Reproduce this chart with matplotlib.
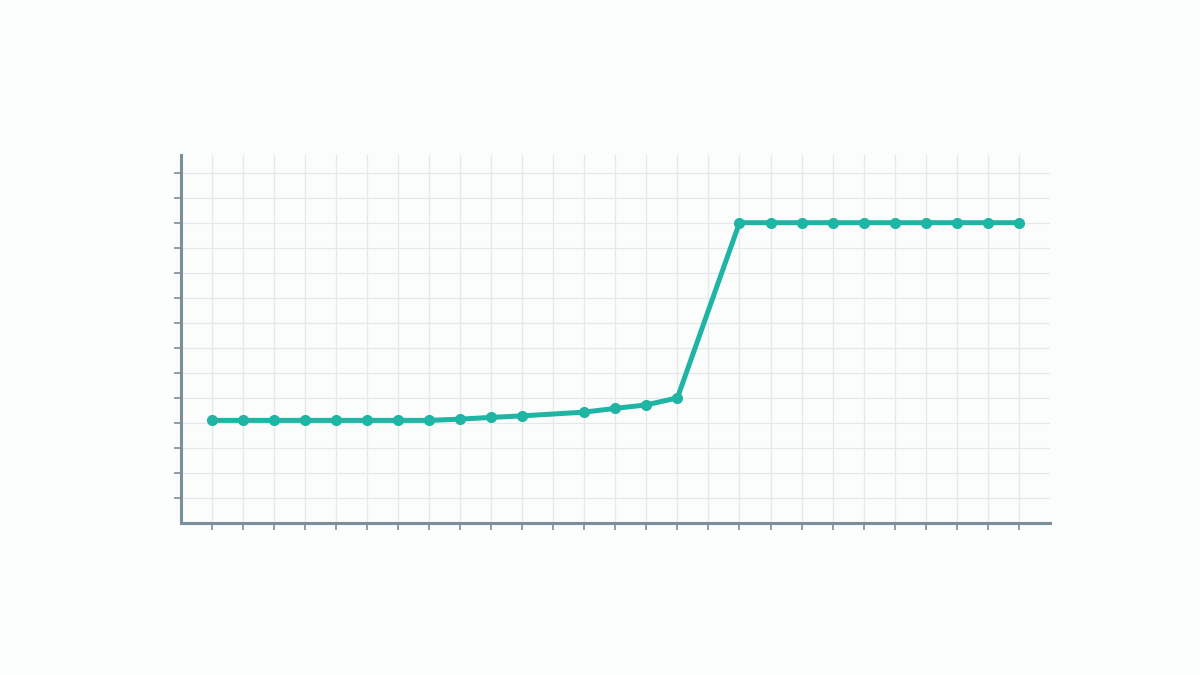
import numpy as np
import matplotlib
matplotlib.use("Agg")
import matplotlib.pyplot as plt

# ---- data ----
x_idx = [0, 1, 2, 3, 4, 5, 6, 7, 8, 9, 10, 12, 13, 14, 15,
         17, 18, 19, 20, 21, 22, 23, 24, 25, 26]
values = [4.1, 4.1, 4.1, 4.1, 4.1, 4.1, 4.1, 4.1, 4.15, 4.22, 4.28, 4.43, 4.58, 4.72, 5.0,
          12.0, 12.0, 12.0, 12.0, 12.0, 12.0, 12.0, 12.0, 12.0, 12.0]
x_ticks = list(range(27))
y_ticks = list(range(1, 15))

BG = "#fbfcfc"
TEAL = "#20b4a4"
SPINE = "#7a8f9a"
GRID = "#e4e8eb"

fig = plt.figure(figsize=(12, 6.75), dpi=100, facecolor=BG)
ax = fig.add_axes([0.1508, 0.2252, 0.724, 0.545], facecolor=BG)

ax.plot(x_idx, values, color=TEAL, lw=3.6, marker="o", ms=7,
        mfc=TEAL, mec=TEAL, solid_joinstyle="round", zorder=3)

ax.set_xlim(-1, 27)
ax.set_ylim(0, 14.7)
ax.set_xticks(x_ticks)
ax.set_yticks(y_ticks)
ax.set_xticklabels([])
ax.set_yticklabels([])
ax.grid(True, color=GRID, lw=0.9, zorder=0)

for s in ("top", "right"):
    ax.spines[s].set_visible(False)
for s in ("left", "bottom"):
    ax.spines[s].set_color(SPINE)
    ax.spines[s].set_linewidth(2.2)
ax.tick_params(colors=SPINE, length=5, width=1.2, direction="out")

fig.savefig("out.png", dpi=100, facecolor=BG)
